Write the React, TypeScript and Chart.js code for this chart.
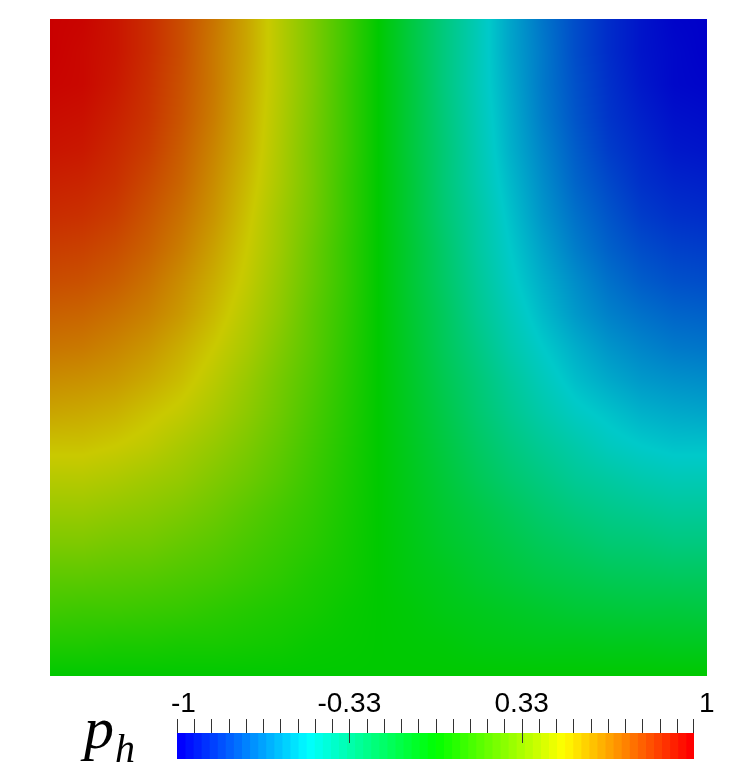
import React, { useEffect, useRef } from 'react';
import { Chart, registerables } from 'chart.js';

Chart.register(...registerables);

const X_NODES = [0, 0.05, 0.1, 0.15, 0.2, 0.25, 0.3, 0.35, 0.4, 0.45, 0.5, 0.55, 0.6, 0.65, 0.7, 0.75, 0.8, 0.85, 0.9, 0.95, 1];
// rows from top (y = 1) to bottom (y = 0)
const Y_NODES = [1, 0.95, 0.9, 0.85, 0.8, 0.75, 0.7, 0.65, 0.6, 0.55, 0.5, 0.45, 0.4, 0.35, 0.3, 0.25, 0.2, 0.15, 0.1, 0.05, 0];
const P_ROWS = [
  [1.00, 0.99, 0.95, 0.89, 0.81, 0.71, 0.59, 0.45, 0.31, 0.16, 0, -0.16, -0.31, -0.45, -0.59, -0.71, -0.81, -0.89, -0.95, -0.99, -1.00],
  [1.00, 0.98, 0.95, 0.89, 0.81, 0.70, 0.59, 0.45, 0.31, 0.16, 0, -0.16, -0.31, -0.45, -0.59, -0.70, -0.81, -0.89, -0.95, -0.98, -1.00],
  [0.99, 0.98, 0.94, 0.88, 0.80, 0.70, 0.58, 0.45, 0.31, 0.15, 0, -0.15, -0.31, -0.45, -0.58, -0.70, -0.80, -0.88, -0.94, -0.98, -0.99],
  [0.97, 0.96, 0.92, 0.87, 0.79, 0.69, 0.57, 0.44, 0.30, 0.15, 0, -0.15, -0.30, -0.44, -0.57, -0.69, -0.79, -0.87, -0.92, -0.96, -0.97],
  [0.95, 0.94, 0.90, 0.85, 0.77, 0.67, 0.56, 0.43, 0.29, 0.15, 0, -0.15, -0.29, -0.43, -0.56, -0.67, -0.77, -0.85, -0.90, -0.94, -0.95],
  [0.92, 0.91, 0.88, 0.82, 0.75, 0.65, 0.54, 0.42, 0.29, 0.14, 0, -0.14, -0.29, -0.42, -0.54, -0.65, -0.75, -0.82, -0.88, -0.91, -0.92],
  [0.89, 0.88, 0.85, 0.79, 0.72, 0.63, 0.52, 0.40, 0.28, 0.14, 0, -0.14, -0.28, -0.40, -0.52, -0.63, -0.72, -0.79, -0.85, -0.88, -0.89],
  [0.85, 0.84, 0.81, 0.76, 0.69, 0.60, 0.50, 0.39, 0.26, 0.13, 0, -0.13, -0.26, -0.39, -0.50, -0.60, -0.69, -0.76, -0.81, -0.84, -0.85],
  [0.81, 0.80, 0.77, 0.72, 0.65, 0.57, 0.48, 0.37, 0.25, 0.13, 0, -0.13, -0.25, -0.37, -0.48, -0.57, -0.65, -0.72, -0.77, -0.80, -0.81],
  [0.76, 0.75, 0.72, 0.68, 0.62, 0.54, 0.45, 0.35, 0.23, 0.12, 0, -0.12, -0.23, -0.35, -0.45, -0.54, -0.62, -0.68, -0.72, -0.75, -0.76],
  [0.71, 0.70, 0.67, 0.63, 0.57, 0.50, 0.42, 0.32, 0.22, 0.11, 0, -0.11, -0.22, -0.32, -0.42, -0.50, -0.57, -0.63, -0.67, -0.70, -0.71],
  [0.65, 0.64, 0.62, 0.58, 0.53, 0.46, 0.38, 0.29, 0.20, 0.10, 0, -0.10, -0.20, -0.29, -0.38, -0.46, -0.53, -0.58, -0.62, -0.64, -0.65],
  [0.59, 0.58, 0.56, 0.52, 0.48, 0.42, 0.35, 0.27, 0.18, 0.09, 0, -0.09, -0.18, -0.27, -0.35, -0.42, -0.48, -0.52, -0.56, -0.58, -0.59],
  [0.52, 0.52, 0.50, 0.47, 0.42, 0.37, 0.31, 0.24, 0.16, 0.08, 0, -0.08, -0.16, -0.24, -0.31, -0.37, -0.42, -0.47, -0.50, -0.52, -0.52],
  [0.45, 0.45, 0.43, 0.40, 0.37, 0.32, 0.27, 0.21, 0.14, 0.07, 0, -0.07, -0.14, -0.21, -0.27, -0.32, -0.37, -0.40, -0.43, -0.45, -0.45],
  [0.38, 0.38, 0.36, 0.34, 0.31, 0.27, 0.22, 0.17, 0.12, 0.06, 0, -0.06, -0.12, -0.17, -0.22, -0.27, -0.31, -0.34, -0.36, -0.38, -0.38],
  [0.31, 0.31, 0.29, 0.28, 0.25, 0.22, 0.18, 0.14, 0.10, 0.05, 0, -0.05, -0.10, -0.14, -0.18, -0.22, -0.25, -0.28, -0.29, -0.31, -0.31],
  [0.23, 0.23, 0.22, 0.21, 0.19, 0.17, 0.14, 0.11, 0.07, 0.04, 0, -0.04, -0.07, -0.11, -0.14, -0.17, -0.19, -0.21, -0.22, -0.23, -0.23],
  [0.16, 0.15, 0.15, 0.14, 0.13, 0.11, 0.09, 0.07, 0.05, 0.02, 0, -0.02, -0.05, -0.07, -0.09, -0.11, -0.13, -0.14, -0.15, -0.15, -0.16],
  [0.08, 0.08, 0.07, 0.07, 0.06, 0.06, 0.05, 0.04, 0.02, 0.01, 0, -0.01, -0.02, -0.04, -0.05, -0.06, -0.06, -0.07, -0.07, -0.08, -0.08],
  [0, 0, 0, 0, 0, 0, 0, 0, 0, 0, 0, 0, 0, 0, 0, 0, 0, 0, 0, 0, 0],
];

// ---- Colour bar ----
const VALUE_MIN = -1;
const VALUE_MAX = 1;
const TICK_LABELS = ['-1', '-0.33', '0.33', '1'];
const TICK_LABEL_VALUES = [-1, -1 / 3, 1 / 3, 1];
const MINOR_TICK_COUNT = 31;
const BAND_COUNT = 64;
const BAR_TITLE = 'p';
const BAR_TITLE_SUB = 'h';

// ---- Style ----
const FIELD_SHADE = 0.79;
const LABEL_ALIGN: CanvasTextAlign[] = ['left', 'center', 'center', 'left'];
const LABEL_SHIFT = [-6, 0, 0, 5];

function rainbow(v: number): [number, number, number] {
  const t = Math.max(0, Math.min(1, (v - VALUE_MIN) / (VALUE_MAX - VALUE_MIN)));
  const h = 240 * (1 - t);
  if (h >= 180) return [0, ((240 - h) / 60) * 255, 255];
  if (h >= 120) return [0, 255, ((h - 120) / 60) * 255];
  if (h >= 60) return [((120 - h) / 60) * 255, 255, 0];
  return [255, (h / 60) * 255, 0];
}

// Renders the nodal field like a finite-element viewer: the scalar is shaded
// bilinearly inside each grid cell, then mapped through the colour map.
const fieldPlugin = {
  id: 'fieldPlugin',
  beforeDatasetsDraw(chart: any) {
    const { ctx, chartArea } = chart;
    const xs = chart.scales.x;
    const ys = chart.scales.y;
    const nx = X_NODES.length;
    const ny = Y_NODES.length;
    const left = Math.round(chartArea.left);
    const top = Math.round(chartArea.top);
    const w = Math.round(chartArea.right) - left;
    const h = Math.round(chartArea.bottom) - top;
    const off = document.createElement('canvas');
    off.width = w;
    off.height = h;
    const octx = off.getContext('2d')!;
    const img = octx.createImageData(w, h);
    const gxs: number[] = [];
    for (let c = 0; c < w; c++) {
      const xv = xs.getValueForPixel(left + c + 0.5);
      gxs.push(((xv - X_NODES[0]) / (X_NODES[nx - 1] - X_NODES[0])) * (nx - 1));
    }
    for (let r = 0; r < h; r++) {
      const yv = ys.getValueForPixel(top + r + 0.5);
      const gy = ((Y_NODES[0] - yv) / (Y_NODES[0] - Y_NODES[ny - 1])) * (ny - 1);
      const j = Math.max(0, Math.min(ny - 2, Math.floor(gy)));
      const fy = Math.max(0, Math.min(1, gy - j));
      const row0 = P_ROWS[j];
      const row1 = P_ROWS[j + 1];
      for (let c = 0; c < w; c++) {
        const gx = gxs[c];
        const i = Math.max(0, Math.min(nx - 2, Math.floor(gx)));
        const fx = Math.max(0, Math.min(1, gx - i));
        const a = row0[i] * (1 - fx) + row0[i + 1] * fx;
        const b = row1[i] * (1 - fx) + row1[i + 1] * fx;
        const v = a * (1 - fy) + b * fy;
        const [rr, gg, bb] = rainbow(v);
        const k = (r * w + c) * 4;
        img.data[k] = Math.round(rr * FIELD_SHADE);
        img.data[k + 1] = Math.round(gg * FIELD_SHADE);
        img.data[k + 2] = Math.round(bb * FIELD_SHADE);
        img.data[k + 3] = 255;
      }
    }
    octx.putImageData(img, 0, 0);
    ctx.save();
    ctx.drawImage(off, left, top);
    ctx.restore();
  },
};

const colorbarPlugin = {
  id: 'colorbarPlugin',
  afterDatasetsDraw(chart: any) {
    const { ctx, chartArea } = chart;
    const vs = chart.scales.x;
    const top = chartArea.top;
    ctx.save();
    ctx.strokeStyle = '#333333';
    ctx.lineWidth = 1;
    for (let k = 0; k < MINOR_TICK_COUNT; k++) {
      const val = VALUE_MIN + ((VALUE_MAX - VALUE_MIN) * k) / (MINOR_TICK_COUNT - 1);
      const isLong = Math.abs(Math.abs(val) - 1 / 3) < 1e-6;
      const xp = Math.min(Math.round(vs.getPixelForValue(val)), Math.round(chartArea.right) - 1) + 0.5;
      ctx.beginPath();
      ctx.moveTo(xp, top - 14);
      ctx.lineTo(xp, isLong ? top + 10 : top);
      ctx.stroke();
    }
    ctx.fillStyle = '#000000';
    ctx.font = '28px "Liberation Sans", Arial, sans-serif';
    ctx.textBaseline = 'alphabetic';
    TICK_LABELS.forEach((lab, i) => {
      ctx.textAlign = LABEL_ALIGN[i];
      ctx.fillText(lab, vs.getPixelForValue(TICK_LABEL_VALUES[i]) + LABEL_SHIFT[i], top - 21);
    });
    ctx.textAlign = 'left';
    ctx.font = 'italic 60px "Liberation Serif", "Times New Roman", serif';
    ctx.fillText(BAR_TITLE, 84, 58);
    ctx.font = 'italic 40px "Liberation Serif", "Times New Roman", serif';
    ctx.fillText(BAR_TITLE_SUB, 115, 72);
    ctx.restore();
  },
};

export default function App() {
  const fieldRef = useRef<HTMLCanvasElement>(null);
  const barRef = useRef<HTMLCanvasElement>(null);

  useEffect(() => {
    const points: { x: number; y: number }[] = [];
    Y_NODES.forEach((y) => X_NODES.forEach((x) => points.push({ x, y })));

    const fieldChart = new Chart(fieldRef.current!, {
      type: 'scatter',
      data: {
        datasets: [{ label: 'p_h', data: points, pointRadius: 0, pointHoverRadius: 0 }],
      },
      options: {
        animation: false,
        responsive: false,
        devicePixelRatio: 1,
        events: [],
        layout: { padding: { left: 50, top: 19, right: 44, bottom: 14 } },
        plugins: { legend: { display: false }, tooltip: { enabled: false } },
        scales: {
          x: { type: 'linear', min: 0, max: 1, display: false },
          y: { type: 'linear', min: 0, max: 1, display: false },
        },
      },
      plugins: [fieldPlugin],
    });

    const range = VALUE_MAX - VALUE_MIN;
    const bandDatasets: any[] = [];
    for (let k = 0; k < BAND_COUNT; k++) {
      const v0 = VALUE_MIN + (range * k) / BAND_COUNT;
      const v1 = VALUE_MIN + (range * (k + 1)) / BAND_COUNT;
      const [r, g, b] = rainbow(VALUE_MIN + (range * k) / (BAND_COUNT - 1));
      bandDatasets.push({
        data: [[v0, v1]],
        backgroundColor: `rgb(${Math.round(r)},${Math.round(g)},${Math.round(b)})`,
        borderWidth: 0,
        barPercentage: 1,
        categoryPercentage: 1,
        grouped: false,
        inflateAmount: 0.4,
      });
    }

    const barChart = new Chart(barRef.current!, {
      type: 'bar',
      data: {
        labels: ['p_h'],
        datasets: bandDatasets,
      },
      options: {
        animation: false,
        responsive: false,
        devicePixelRatio: 1,
        events: [],
        indexAxis: 'y',
        layout: { padding: { left: 177, top: 43, right: 57, bottom: 8 } },
        plugins: { legend: { display: false }, tooltip: { enabled: false } },
        scales: {
          x: { type: 'linear', min: VALUE_MIN, max: VALUE_MAX, display: false },
          y: { type: 'category', display: false },
        },
      },
      plugins: [colorbarPlugin],
    });

    return () => {
      fieldChart.destroy();
      barChart.destroy();
    };
  }, []);

  return (
    <div style={{ position: 'absolute', left: 0, top: 0, width: 751, height: 767, background: '#ffffff' }}>
      <canvas
        ref={fieldRef}
        width={751}
        height={690}
        style={{ position: 'absolute', left: 0, top: 0, width: 751, height: 690 }}
      />
      <canvas
        ref={barRef}
        width={751}
        height={77}
        style={{ position: 'absolute', left: 0, top: 690, width: 751, height: 77 }}
      />
    </div>
  );
}
